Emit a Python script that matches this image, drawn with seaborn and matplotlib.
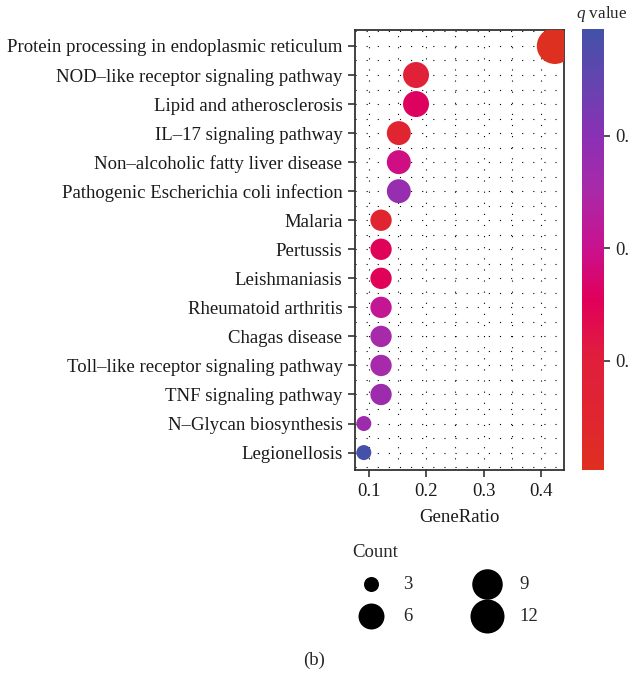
import numpy as np
import pandas as pd
import matplotlib.pyplot as plt
from matplotlib.colors import LinearSegmentedColormap, Normalize
from matplotlib.cm import ScalarMappable
import seaborn as sns

pathways = [
    "Protein processing in endoplasmic reticulum",
    "NOD\u2013like receptor signaling pathway",
    "Lipid and atherosclerosis",
    "IL\u201317 signaling pathway",
    "Non\u2013alcoholic fatty liver disease",
    "Pathogenic Escherichia coli infection",
    "Malaria",
    "Pertussis",
    "Leishmaniasis",
    "Rheumatoid arthritis",
    "Chagas disease",
    "Toll\u2013like receptor signaling pathway",
    "TNF signaling pathway",
    "N\u2013Glycan biosynthesis",
    "Legionellosis",
]
gene_ratio = [0.424, 0.182, 0.182, 0.152, 0.152, 0.152, 0.121, 0.121,
              0.121, 0.121, 0.121, 0.121, 0.121, 0.091, 0.091]
count = [14, 6, 6, 5, 5, 5, 4, 4, 4, 4, 4, 4, 4, 3, 3]
q_value = [0.0003, 0.0082, 0.016, 0.005, 0.019, 0.028, 0.005, 0.015,
           0.015, 0.021, 0.0255, 0.0255, 0.027, 0.027, 0.0395]
legend_counts = [3, 6, 9, 12]

df = pd.DataFrame({"Pathway": pathways, "GeneRatio": gene_ratio,
                   "Count": count, "q": q_value})

# red -> magenta -> purple -> blue, sampled from the colour bar
cmap = LinearSegmentedColormap.from_list("qv", [
    (0.0, "#de3020"), (0.114, "#e02530"), (0.255, "#e01e3c"),
    (0.386, "#e0005a"), (0.507, "#c8128f"), (0.636, "#a82aa8"),
    (0.759, "#8a30b5"), (0.864, "#6a42b0"), (1.0, "#4351a8")])
qmin, qmax = 0.0003, 0.0395


# ggplot-style area scale: diameter grows with sqrt of the rescaled count
def marker_area(c, lo=3, hi=14, dmin=15, dmax=36):
    d_px = dmin + np.sqrt((c - lo) / (hi - lo)) * (dmax - dmin)
    return (d_px * 0.72) ** 2


sizes = {c: marker_area(c) for c in sorted(set(count))}

sns.set_theme(style="white")
plt.rcParams['font.family'] = ['Liberation Serif', 'DejaVu Serif']
plt.rcParams['mathtext.fontset'] = 'custom'
plt.rcParams['mathtext.it'] = 'Liberation Serif:italic'
plt.rcParams['mathtext.rm'] = 'Liberation Serif'
FS = 13.5

fig = plt.figure(figsize=(6.29, 6.73), dpi=100)
ax = fig.add_axes([355 / 629, 1 - 470 / 673, 209 / 629, 440 / 673])

sns.scatterplot(ax=ax, data=df, x="GeneRatio", y="Pathway", hue="q",
                size="Count", palette=cmap, hue_norm=(qmin, qmax),
                sizes=sizes, linewidth=0, alpha=1, legend=False, zorder=3)

ax.set_xlim(0.0756, 0.44)
ax.set_ylim(len(pathways) - 0.4, -0.55)
ax.set_xticks([0.1, 0.2, 0.3, 0.4])
ax.set_xticklabels(["0.1", "0.2", "0.3", "0.4"])
ax.set_xticks([0.15, 0.25, 0.35], minor=True)
ax.set_yticks(np.arange(-0.5, len(pathways), 1), minor=True)
ax.grid(True, which="both", color="black", linestyle=(0, (1, 9)), linewidth=0.8)
ax.set_axisbelow(True)
for s in ax.spines.values():
    s.set_color("#333333")
    s.set_linewidth(1.3)
ax.tick_params(axis="both", which="major", length=5, width=1.2, color="#333333",
               labelsize=FS, labelcolor="#1a1a1a", pad=4, left=True, bottom=True)
ax.tick_params(axis="both", which="minor", length=0)
ax.set_xlabel("GeneRatio", fontsize=FS, color="#1a1a1a", labelpad=7)
ax.set_ylabel("")

# colour bar (its labels run off the right edge, as in the source figure)
cax = fig.add_axes([582 / 629, 1 - 470 / 673, 22 / 629, 441 / 673])
cb = fig.colorbar(ScalarMappable(norm=Normalize(qmin, qmax), cmap=cmap), cax=cax)
cb.outline.set_visible(False)
cb.set_ticks([0.01, 0.02, 0.03])
cb.ax.tick_params(length=4, width=1.2, color="#333333", labelsize=FS, pad=4)
fig.text(576 / 629, 1 - 14 / 673, "$q$ value", fontsize=12.3, va="center", ha="left")

# size legend
handles = [ax.scatter([], [], s=marker_area(c), color="black", linewidth=0, label=str(c))
           for c in legend_counts]
leg = fig.legend(handles=handles, title="Count", ncol=2, frameon=False,
                 loc="upper left", bbox_to_anchor=(339 / 629, 1 - 531 / 673),
                 fontsize=FS, title_fontsize=FS, alignment="left",
                 columnspacing=3.0, labelspacing=0.8, handletextpad=0.7,
                 borderpad=0.2)

fig.text(0.5, 1 - 660 / 673, "(b)", fontsize=FS, ha="center", va="center")

fig.savefig("out.png", dpi=100)
